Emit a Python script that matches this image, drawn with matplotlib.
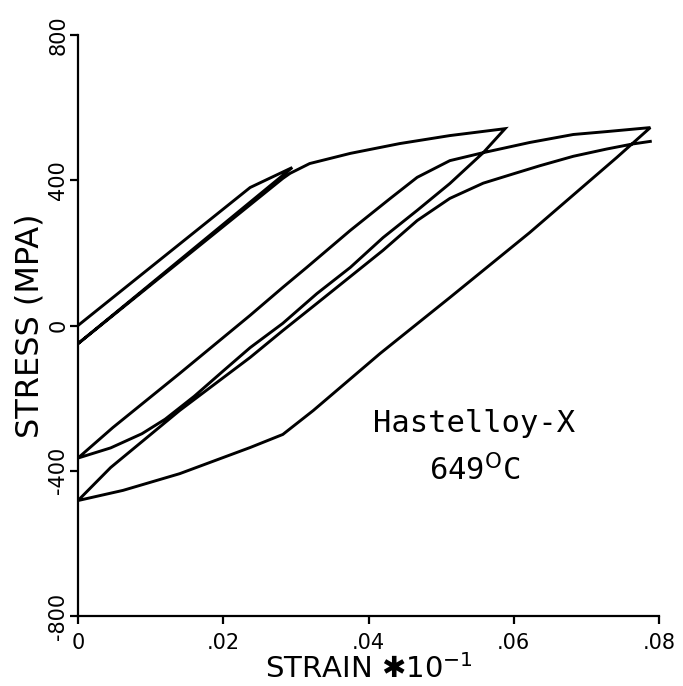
import matplotlib
matplotlib.use('Agg')
import matplotlib.pyplot as plt

# strain / stress (MPa), one pair of lists per branch
load1_strain = [0.0, 0.0237, 0.0295]
load1_stress = [0, 380, 435]

unload1_strain = [0.0295, 0.0]
unload1_stress = [435, -50]

load2_strain = [0.0, 0.0282, 0.0292, 0.0319, 0.0375, 0.0443, 0.0512, 0.0588]
load2_stress = [-50, 405, 419, 446, 474, 501, 523, 542]

unload2_strain = [0.0588, 0.0558, 0.0512, 0.0467, 0.0420, 0.0375, 0.0329, 0.0282,
                  0.0237, 0.0200, 0.0160, 0.0120, 0.0088, 0.0045, 0.0]
unload2_stress = [542, 476, 391, 317, 242, 160, 88, 6,
                  -61, -125, -195, -258, -298, -337, -365]

load3_strain = [0.0, 0.0048, 0.0140, 0.0237, 0.0282, 0.0315, 0.0375, 0.0430,
                0.0467, 0.0512, 0.0558, 0.0622, 0.0682, 0.0728, 0.0788]
load3_stress = [-365, -281, -132, 28, 105, 160, 262, 350,
                408, 454, 476, 504, 526, 534, 545]

unload3_strain = [0.0788, 0.0742, 0.0622, 0.0512, 0.0416, 0.0392, 0.0324, 0.0282,
                  0.0237, 0.0140, 0.0062, 0.0]
unload3_stress = [545, 463, 256, 77, -77, -118, -234, -300,
                  -336, -408, -454, -482]

load4_strain = [0.0, 0.0045, 0.0140, 0.0237, 0.0282, 0.0329, 0.0420, 0.0467,
                0.0512, 0.0558, 0.0600, 0.0636, 0.0682, 0.0728, 0.0764, 0.0788]
load4_stress = [-482, -391, -234, -88, -14, 61, 207, 289,
                350, 392, 418, 440, 466, 486, 500, 507]

xticks = [0, 0.02, 0.04, 0.06, 0.08]
xtick_labels = ['0', '.02', '.04', '.06', '.08']
yticks = [-800, -400, 0, 400, 800]
ytick_labels = ['-800', '-400', '0', '400', '800']

# the test is one continuous trace
strain = (load1_strain + unload1_strain + load2_strain + unload2_strain
          + load3_strain + unload3_strain + load4_strain)
stress = (load1_stress + unload1_stress + load2_stress + unload2_stress
          + load3_stress + unload3_stress + load4_stress)

fig = plt.figure(figsize=(6.83, 6.86), dpi=100)
ax = fig.add_axes([0.1142, 0.102, 0.8507, 0.847])

ax.plot(strain, stress, color='black', lw=2.1, solid_joinstyle='miter')

ax.set_xlim(0, 0.08)
ax.set_ylim(-800, 800)
ax.set_xticks(xticks)
ax.set_xticklabels(xtick_labels, fontsize=15)
ax.set_yticks(yticks)
ax.set_yticklabels(ytick_labels, fontsize=15, rotation=90, va='center')

ax.spines['top'].set_visible(False)
ax.spines['right'].set_visible(False)
ax.spines['left'].set_linewidth(1.6)
ax.spines['bottom'].set_linewidth(1.6)
ax.tick_params(direction='out', length=6, width=1.6)
ax.tick_params(axis='x', pad=6)
ax.tick_params(axis='y', pad=1)

ax.set_xlabel('STRAIN \u2731' + '10$^{-1}$', fontsize=21, labelpad=1)
ax.set_ylabel('STRESS (MPA)', fontsize=23, labelpad=2)

ax.text(0.682, 0.332, 'Hastelloy-X', transform=ax.transAxes,
        ha='center', va='center', fontsize=22, family='DejaVu Sans Mono')
ax.text(0.682, 0.251, '649$^{\\mathsf{O}}$C', transform=ax.transAxes,
        ha='center', va='center', fontsize=22, family='DejaVu Sans Mono')

fig.savefig('out.png', dpi=100)
